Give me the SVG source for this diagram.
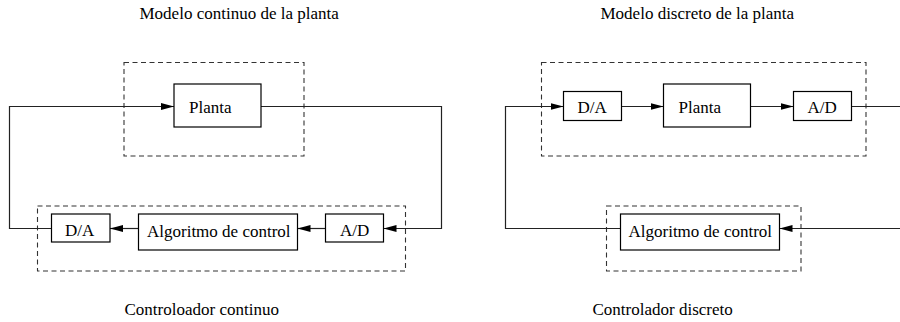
<svg xmlns="http://www.w3.org/2000/svg" width="900" height="322" viewBox="0 0 900 322">
<style>
.bg{fill:#fff}
.box{fill:#fff;stroke:#000;stroke-width:1.2}
.dash{fill:none;stroke:#333;stroke-width:1.1;stroke-dasharray:5,3.5}
.wire{fill:none;stroke:#222;stroke-width:1.2}
text{font-family:"Liberation Serif","Times New Roman",serif;font-size:17px;fill:#000}
</style>
<defs>
<marker id="arr" markerUnits="userSpaceOnUse" markerWidth="14" markerHeight="8" refX="13" refY="4" orient="auto">
<path d="M0,0.5 L13,4 L0,7.5 Z" fill="#000"/>
</marker>
</defs>
<rect class="bg" x="0" y="0" width="900" height="322"/>
<g id="titles">
<text x="139.5" y="19">Modelo continuo de la planta</text>
<text x="600.5" y="19">Modelo discreto de la planta</text>
<text x="124.5" y="315">Controloador continuo</text>
<text x="592.5" y="315">Controlador discreto</text>
</g>
<g id="group-plant-continuous"><rect class="dash" x="124" y="62.5" width="180" height="93.5"/></g>
<g id="group-controller-continuous"><rect class="dash" x="37.5" y="206" width="368" height="65"/></g>
<g id="group-plant-discrete"><rect class="dash" x="541.5" y="62.5" width="324.5" height="93.5"/></g>
<g id="group-controller-discrete"><rect class="dash" x="606.5" y="206" width="194.5" height="65"/></g>
<g id="connectors">
<path class="wire" d="M51.5,228.5 H9.5 V106.5 H174" marker-end="url(#arr)"/>
<path class="wire" d="M261,106.5 H441.5 V228.5 H383.5" marker-end="url(#arr)"/>
<path class="wire" d="M325.5,228.5 H297.5" marker-end="url(#arr)"/>
<path class="wire" d="M138.5,228.5 H110" marker-end="url(#arr)"/>
<path class="wire" d="M851.5,106.5 H900"/>
<path class="wire" d="M900,228.5 H779.5" marker-end="url(#arr)"/>
<path class="wire" d="M620.5,228.5 H505.5 V106.5 H563.5" marker-end="url(#arr)"/>
<path class="wire" d="M621.5,106.5 H663.5" marker-end="url(#arr)"/>
<path class="wire" d="M750.5,106.5 H793.5" marker-end="url(#arr)"/>
</g>
<g id="planta-c"><rect class="box" x="174" y="84" width="87" height="43"/><text x="189" y="113">Planta</text></g>
<g id="da-c"><rect class="box" x="51.5" y="214" width="58.5" height="28"/><text x="65" y="236">D/A</text></g>
<g id="alg-c"><rect class="box" x="138.5" y="214" width="159" height="36"/><text x="147" y="237">Algoritmo de control</text></g>
<g id="ad-c"><rect class="box" x="325.5" y="214" width="58" height="28"/><text x="340" y="236">A/D</text></g>
<g id="da-d"><rect class="box" x="563.5" y="91.5" width="58" height="29"/><text x="577.5" y="113">D/A</text></g>
<g id="planta-d"><rect class="box" x="663.5" y="84" width="87" height="43"/><text x="678.5" y="113">Planta</text></g>
<g id="ad-d"><rect class="box" x="793.5" y="91.5" width="58" height="29"/><text x="807.5" y="113">A/D</text></g>
<g id="alg-d"><rect class="box" x="620.5" y="214" width="159" height="36"/><text x="628.5" y="237">Algoritmo de control</text></g>
</svg>
